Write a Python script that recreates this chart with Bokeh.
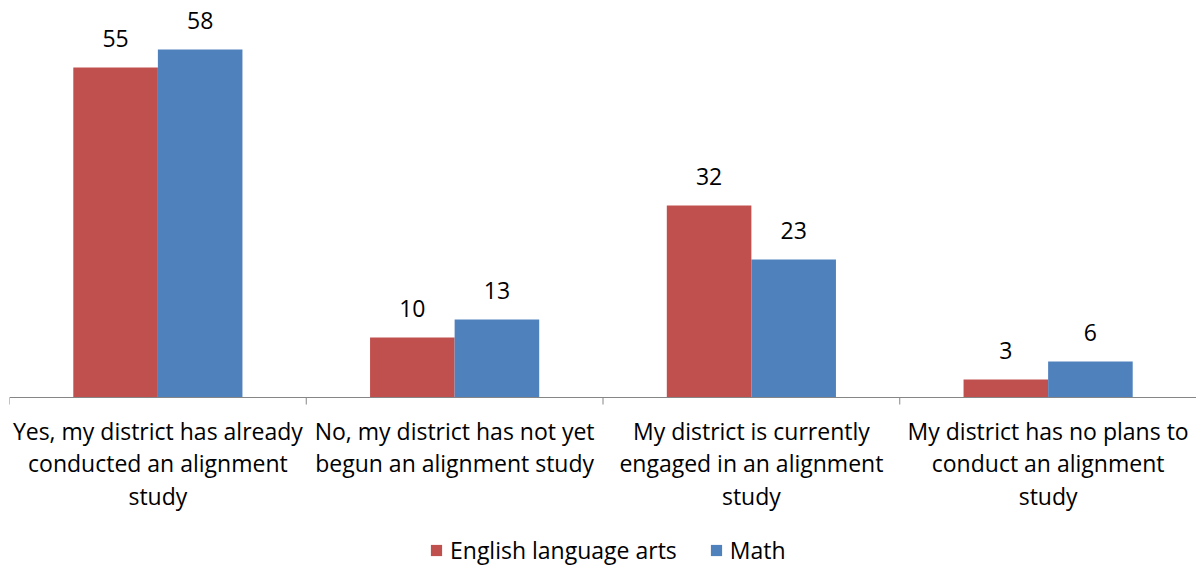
from bokeh.plotting import figure
from bokeh.models import Range1d, Legend, LegendItem, ColumnDataSource, Span
from bokeh.core.properties import value
from bokeh.embed import file_html
from bokeh.resources import INLINE

categories = [
    "Yes, my district has already\nconducted an alignment\nstudy",
    "No, my district has not yet\nbegun an alignment study",
    "My district is currently\nengaged in an alignment\nstudy",
    "My district has no plans to\nconduct an alignment\nstudy",
]
series_names = ["English language arts", "Math"]
ela = [55, 10, 32, 3]
math_vals = [58, 13, 23, 6]
colors = ["#C0504D", "#4F81BD"]

FONT = "Open Sans"
FS = "23px"
W, H = 1196, 565
BASE_PX = 397           # pixel row of the zero line inside the figure
SCALE = 6.0             # pixels per unit
PX = 1.0 / SCALE        # one pixel in data units
y_top = BASE_PX / SCALE
y_bot = -(H - BASE_PX) / SCALE

p = figure(width=W, height=H, output_backend="svg", toolbar_location=None,
           x_range=Range1d(0, len(categories)), y_range=Range1d(y_bot, y_top),
           x_axis_location=None, y_axis_location=None,
           min_border_left=9, min_border_right=0, min_border_top=0, min_border_bottom=0)
p.outline_line_color = None
p.xgrid.visible = False
p.ygrid.visible = False
p.background_fill_color = "white"

bw = 0.285
centers = [i + 0.5 for i in range(len(categories))]
renderers = []
for k, (vals, col) in enumerate(zip([ela, math_vals], colors)):
    xs = [c + (k - 0.5) * bw for c in centers]
    src = ColumnDataSource(dict(x=xs, top=vals, ly=[v + 29 * PX for v in vals],
                                label=[str(v) for v in vals]))
    r = p.vbar(x="x", top="top", width=bw, bottom=0, source=src,
               fill_color=col, line_color=None)
    renderers.append(r)
    p.text(x="x", y="ly", text="label", source=src, text_align="center",
           text_baseline="alphabetic", text_font=value(FONT),
           text_font_size=FS, text_color="#000000")

# category axis line, boundary ticks and labels
p.add_layout(Span(location=0, dimension="width", line_color="#868686", line_width=1))
bounds = list(range(len(categories) + 1))
p.segment(x0=bounds, y0=[0] * len(bounds), x1=bounds, y1=[-7 * PX] * len(bounds),
          line_color="#868686", line_width=1)
p.text(x=centers, y=[-17.5 * PX] * len(centers), text=categories,
       text_align="center", text_baseline="top", text_font=value(FONT),
       text_font_size=FS, text_color="#000000", text_line_height=1.01)

legend = Legend(items=[LegendItem(label=n, renderers=[r]) for n, r in zip(series_names, renderers)],
                orientation="horizontal", location=(420, -1),
                label_text_font=FONT, label_text_font_size=FS, label_text_color="#000000",
                glyph_width=14, glyph_height=14, label_standoff=7, spacing=32,
                padding=0, margin=0, border_line_color=None, background_fill_alpha=0)
p.add_layout(legend, "center")

open("out.html", "w").write(file_html(p, INLINE))
